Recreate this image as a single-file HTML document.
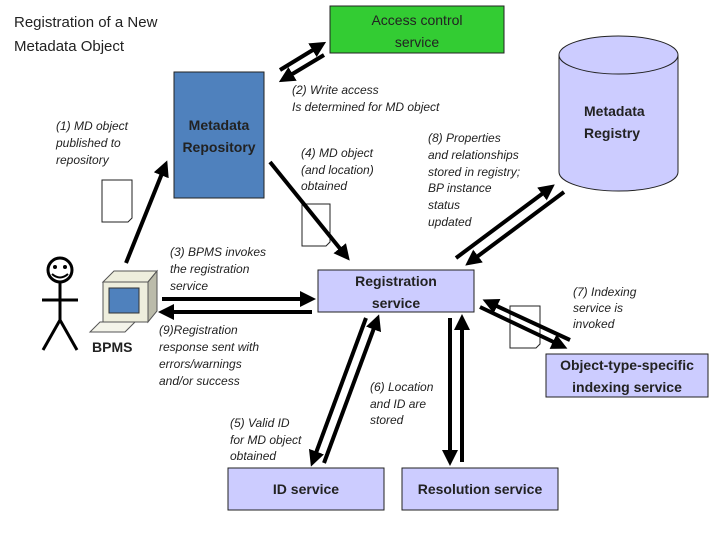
<!DOCTYPE html>
<html><head><meta charset="utf-8"><style>
body{margin:0;background:#fff}
svg{display:block}
.c{font-family:"Liberation Sans",sans-serif;font-size:15px;fill:#222}
.b{font-family:"Liberation Sans",sans-serif;font-size:14px;font-weight:bold;fill:#222}
.n{font-family:"Liberation Sans",sans-serif;font-size:14px;font-weight:normal;fill:#222}
.i{font-family:"Liberation Sans",sans-serif;font-size:12px;font-style:italic;fill:#222}
</style></head><body>
<svg width="720" height="540" viewBox="0 0 720 540" xmlns="http://www.w3.org/2000/svg">
<defs>
<marker id="a" markerWidth="4" markerHeight="4" refX="2.5" refY="2" orient="auto" markerUnits="strokeWidth"><path d="M0,0 L4,2 L0,4 z" fill="#000"/></marker>
</defs>
<text class="c" x="14" y="27">Registration of a New</text>
<text class="c" x="14" y="51">Metadata Object</text>

<rect x="330" y="6" width="174" height="47" fill="#33cc33" stroke="#222"/>
<text class="n" x="417" y="25" text-anchor="middle">Access control</text>
<text class="n" x="417" y="47" text-anchor="middle">service</text>

<rect x="174" y="72" width="90" height="126" fill="#4f81bd" stroke="#222"/>
<text class="b" x="219" y="130" text-anchor="middle">Metadata</text>
<text class="b" x="219" y="152" text-anchor="middle">Repository</text>

<path d="M559,55 L559,172 A59.5,19 0 0 0 678,172 L678,55" fill="#ccccff" stroke="#222"/>
<ellipse cx="618.5" cy="55" rx="59.5" ry="19" fill="#ccccff" stroke="#222"/>
<text class="b" x="584" y="116">Metadata</text>
<text class="b" x="584" y="138">Registry</text>

<rect x="318" y="270" width="156" height="42" fill="#ccccff" stroke="#222"/>
<text class="b" x="396" y="286" text-anchor="middle">Registration</text>
<text class="b" x="396" y="308" text-anchor="middle">service</text>

<rect x="228" y="468" width="156" height="42" fill="#ccccff" stroke="#222"/>
<text class="b" x="306" y="494" text-anchor="middle">ID service</text>
<rect x="402" y="468" width="156" height="42" fill="#ccccff" stroke="#222"/>
<text class="b" x="480" y="494" text-anchor="middle">Resolution service</text>
<rect x="546" y="354" width="162" height="43" fill="#ccccff" stroke="#222"/>
<text class="b" x="627" y="370" text-anchor="middle">Object-type-specific</text>
<text class="b" x="627" y="392" text-anchor="middle">indexing service</text>

<g fill="#fff" stroke="#222" stroke-width="1">
<path d="M102,180 H132 V218 L128,222 H102 Z"/>
<path d="M302,204 H330 V242 L326,246 H302 Z"/>
<path d="M510,306 H540 V344 L536,348 H510 Z"/>
</g>

<g stroke="#000" stroke-width="4" fill="none" marker-end="url(#a)">
<line x1="280" y1="70" x2="321" y2="45"/>
<line x1="324" y1="55" x2="284" y2="79"/>
<line x1="126" y1="263" x2="165" y2="166"/>
<line x1="270" y1="162" x2="346" y2="256"/>
<line x1="162" y1="299" x2="310" y2="299"/>
<line x1="312" y1="312" x2="164" y2="312"/>
<line x1="456" y1="258" x2="550" y2="188"/>
<line x1="564" y1="192" x2="470" y2="262"/>
<line x1="570" y1="340" x2="488" y2="302"/>
<line x1="480" y1="307" x2="562" y2="346"/>
<line x1="366" y1="318" x2="313" y2="461"/>
<line x1="324" y1="463" x2="377" y2="320"/>
<line x1="450" y1="318" x2="450" y2="460"/>
<line x1="462" y1="462" x2="462" y2="320"/>
</g>

<text class="i"><tspan x="56" y="130">(1)  MD object</tspan><tspan x="56" y="147">published to</tspan><tspan x="56" y="164">repository</tspan></text>
<text class="i"><tspan x="292" y="94">(2) Write access</tspan><tspan x="292" y="111">Is determined for MD object</tspan></text>
<text class="i"><tspan x="301" y="157">(4) MD object</tspan><tspan x="301" y="174">(and location)</tspan><tspan x="301" y="190">obtained</tspan></text>
<text class="i"><tspan x="428" y="142">(8) Properties</tspan><tspan x="428" y="159">and relationships</tspan><tspan x="428" y="176">stored in registry;</tspan><tspan x="428" y="192">BP instance</tspan><tspan x="428" y="209">status</tspan><tspan x="428" y="226">updated</tspan></text>
<text class="i"><tspan x="170" y="256">(3) BPMS invokes</tspan><tspan x="170" y="273">the registration</tspan><tspan x="170" y="290">service</tspan></text>
<text class="i"><tspan x="159" y="334">(9)Registration</tspan><tspan x="159" y="351">response sent with</tspan><tspan x="159" y="368">errors/warnings</tspan><tspan x="159" y="385">and/or success</tspan></text>
<text class="i"><tspan x="573" y="296">(7) Indexing</tspan><tspan x="573" y="312">service is</tspan><tspan x="573" y="328">invoked</tspan></text>
<text class="i"><tspan x="370" y="391">(6) Location</tspan><tspan x="370" y="408">and ID are</tspan><tspan x="370" y="424">stored</tspan></text>
<text class="i"><tspan x="230" y="427">(5) Valid ID</tspan><tspan x="230" y="444">for MD object</tspan><tspan x="230" y="460">obtained</tspan></text>

<g stroke="#000" stroke-width="3" fill="none">
<circle cx="60" cy="270" r="12"/>
<line x1="60" y1="282" x2="60" y2="320"/>
<line x1="42" y1="300" x2="78" y2="300"/>
<line x1="60" y1="320" x2="43" y2="350"/>
<line x1="60" y1="320" x2="77" y2="350"/>
</g>
<circle cx="55" cy="267" r="2" fill="#000"/><circle cx="65" cy="267" r="2" fill="#000"/>
<path d="M52,274 Q60,281 68,274" stroke="#000" stroke-width="2" fill="none"/>

<g stroke="#555" stroke-width="1">
<path d="M103,282 L114,271 L157,271 L148,282 Z" fill="#eeeedd"/>
<path d="M148,282 L157,271 L157,311 L148,322 Z" fill="#bbbbaa"/>
<rect x="103" y="282" width="45" height="40" fill="#eeeedd"/>
<rect x="109" y="288" width="30" height="25" fill="#4f81bd" stroke="#333"/>
<path d="M90,332 L100,322 L135,322 L125,332 Z" fill="#f4f4ea"/>
</g>
<text class="b" x="92" y="352">BPMS</text>
</svg>
</body></html>
